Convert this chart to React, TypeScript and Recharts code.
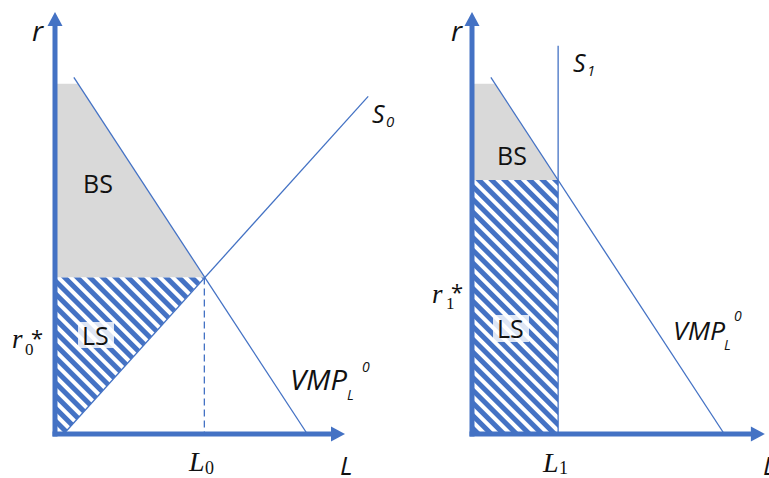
import React from 'react';
import { ComposedChart, Line, Area, Scatter, XAxis, YAxis } from 'recharts';

const BLUE = '#4472C4';
const GREY = '#D9D9D9';

// Shared demand curve VMP_L^0 (x = labour L, y = rent r)
const demand = [{ x: 6.5, y: 84.5 }, { x: 87, y: 0 }];

// Left panel: upward sloping supply S0, equilibrium (L0, r0*)
const supply0 = [{ x: 3, y: 0 }, { x: 108, y: 80 }];
const dashedL0 = [{ x: 51.5, y: 37.1 }, { x: 51.5, y: 0 }];
const bsLeft = [{ x: 0, r: [37.1, 83] }, { x: 7.9, r: [37.1, 83] }, { x: 51.5, r: [37.1, 37.1] }];
const lsLeft = [{ x: 0, r: [0, 37.1] }, { x: 3, r: [0, 37.1] }, { x: 51.5, r: [37.1, 37.1] }];

// Right panel: vertical supply S1 at L1
const supply1 = [{ x: 29.7, y: 0 }, { x: 29.7, y: 92 }];
const bsRight = [{ x: 0, r: [60.2, 83] }, { x: 7.9, r: [60.2, 83] }, { x: 29.7, r: [60.2, 60.2] }];
const lsRight = [{ x: 0, r: [0, 60.2] }, { x: 29.7, r: [0, 60.2] }];

// Axes (with arrow tips)
const yAxisLine = [{ x: 0, y: 0 }, { x: 0, y: 97 }];
const yAxisTip = [{ x: 0, y: 100 }];
const xAxisLineL = [{ x: 0, y: 0 }, { x: 96, y: 0 }];
const xAxisLineR = [{ x: 0, y: 0 }, { x: 97, y: 0 }];
const xTipL = [{ x: 100, y: 0 }];
const xTipR = [{ x: 101, y: 0 }];

const upArrow = (props: any) => {
  const { cx, cy } = props;
  return <polygon points={`${cx},${cy} ${cx - 7.5},${cy + 14} ${cx + 7.5},${cy + 14}`} fill={BLUE} />;
};
const rightArrow = (props: any) => {
  const { cx, cy } = props;
  return <polygon points={`${cx},${cy} ${cx - 14},${cy - 7.5} ${cx - 14},${cy + 7.5}`} fill={BLUE} />;
};

function Panel(props: any) {
  const { width, margin, xMax, bs, ls, supply, dashed, xLine, xTip } = props;
  return (
    <ComposedChart width={width} height={478} margin={margin}>
      <XAxis type="number" dataKey="x" domain={[0, xMax]} hide />
      <YAxis type="number" dataKey="y" domain={[0, 100]} hide />
      <Area data={bs} dataKey="r" type="linear" fill={GREY} fillOpacity={1} stroke="none" isAnimationActive={false} />
      <Area data={ls} dataKey="r" type="linear" fill="url(#hatch)" fillOpacity={1} stroke="none" isAnimationActive={false} />
      {dashed ? (
        <Line data={dashed} dataKey="y" type="linear" stroke={BLUE} strokeWidth={1.3} strokeDasharray="7 4" dot={false} isAnimationActive={false} />
      ) : null}
      <Line data={demand} dataKey="y" type="linear" stroke={BLUE} strokeWidth={1.3} dot={false} isAnimationActive={false} />
      <Line data={supply} dataKey="y" type="linear" stroke={BLUE} strokeWidth={1.3} dot={false} isAnimationActive={false} />
      <Line data={yAxisLine} dataKey="y" type="linear" stroke={BLUE} strokeWidth={5} strokeLinecap="square" dot={false} isAnimationActive={false} />
      <Line data={xLine} dataKey="y" type="linear" stroke={BLUE} strokeWidth={5} strokeLinecap="square" dot={false} isAnimationActive={false} />
      <Scatter data={yAxisTip} dataKey="y" shape={upArrow} isAnimationActive={false} />
      <Scatter data={xTip} dataKey="y" shape={rightArrow} isAnimationActive={false} />
    </ComposedChart>
  );
}

const SANS = '"Open Sans", "Noto Sans", sans-serif';
const SERIF = '"Liberation Serif", "DejaVu Serif", serif';

function T(p: any) {
  const { x, y, s, it, serif, len, children } = p;
  return (
    <text x={x} y={y} fontSize={s} fontStyle={it ? 'italic' : 'normal'} fontFamily={serif ? SERIF : SANS} fill="#111"
      {...(len ? { textLength: len, lengthAdjust: 'spacingAndGlyphs' } : {})}>
      {children}
    </text>
  );
}

export default function App() {
  return (
    <div style={{ position: 'absolute', left: 0, top: 0, width: 769, height: 478, background: '#fff', overflow: 'hidden' }}>
      <svg width={0} height={0} style={{ position: 'absolute' }}>
        <defs>
          <pattern id="hatch" patternUnits="userSpaceOnUse" width={9} height={9} patternTransform="rotate(-45)">
            <rect x={0} y={0} width={9} height={9} fill="#fff" />
            <rect x={0} y={0} width={5} height={9} fill={BLUE} />
          </pattern>
        </defs>
      </svg>
      <div style={{ position: 'absolute', left: 0, top: 0 }}>
        <Panel width={410} margin={{ top: 12, right: 7, bottom: 44, left: 55 }} xMax={120}
          bs={bsLeft} ls={lsLeft} supply={supply0} dashed={dashedL0} xLine={xAxisLineL} xTip={xTipL} />
      </div>
      <div style={{ position: 'absolute', left: 410, top: 0 }}>
        <Panel width={359} margin={{ top: 12, right: 1.2, bottom: 44, left: 62 }} xMax={102}
          bs={bsRight} ls={lsRight} supply={supply1} dashed={null} xLine={xAxisLineR} xTip={xTipR} />
      </div>
      <svg width={769} height={478} style={{ position: 'absolute', left: 0, top: 0, pointerEvents: 'none' }}>
        {/* Left panel */}
        <T x={32} y={41} s={28} it>r</T>
        <T x={83} y={193} s={25}>BS</T>
        <rect x={78} y={322} width={36} height={26} fill="#fff" fillOpacity={0.82} />
        <T x={82} y={345} s={25}>LS</T>
        <T x={12} y={348} s={27} it serif>r</T>
        <T x={25} y={355} s={17} serif>0</T>
        <T x={31} y={346} s={22}>*</T>
        <T x={372} y={123} s={25} it>S</T>
        <T x={386} y={127} s={15} it>0</T>
        <T x={290} y={390} s={27} it len={57}>VMP</T>
        <T x={347} y={400} s={14} it>L</T>
        <T x={362} y={372} s={14} it>0</T>
        <T x={189} y={471} s={28} it serif>L</T>
        <T x={205} y={474} s={18} serif>0</T>
        <T x={340} y={475} s={26} it>L</T>
        {/* Right panel */}
        <T x={451} y={41} s={28} it>r</T>
        <T x={573} y={72} s={25} it>S</T>
        <T x={587} y={76} s={15} it>1</T>
        <T x={497} y={165} s={25}>BS</T>
        <rect x={493} y={315} width={36} height={27} fill="#fff" fillOpacity={0.82} />
        <T x={497} y={338} s={25}>LS</T>
        <T x={432} y={303} s={27} it serif>r</T>
        <T x={446} y={309} s={17} serif>1</T>
        <T x={451} y={300} s={22}>*</T>
        <T x={673} y={340} s={26} it len={52}>VMP</T>
        <T x={724} y={350} s={14} it>L</T>
        <T x={734} y={321} s={14} it>0</T>
        <T x={543} y={472} s={28} it serif>L</T>
        <T x={559} y={474} s={18} serif>1</T>
        <T x={763} y={475} s={26} it>L</T>
      </svg>
    </div>
  );
}
